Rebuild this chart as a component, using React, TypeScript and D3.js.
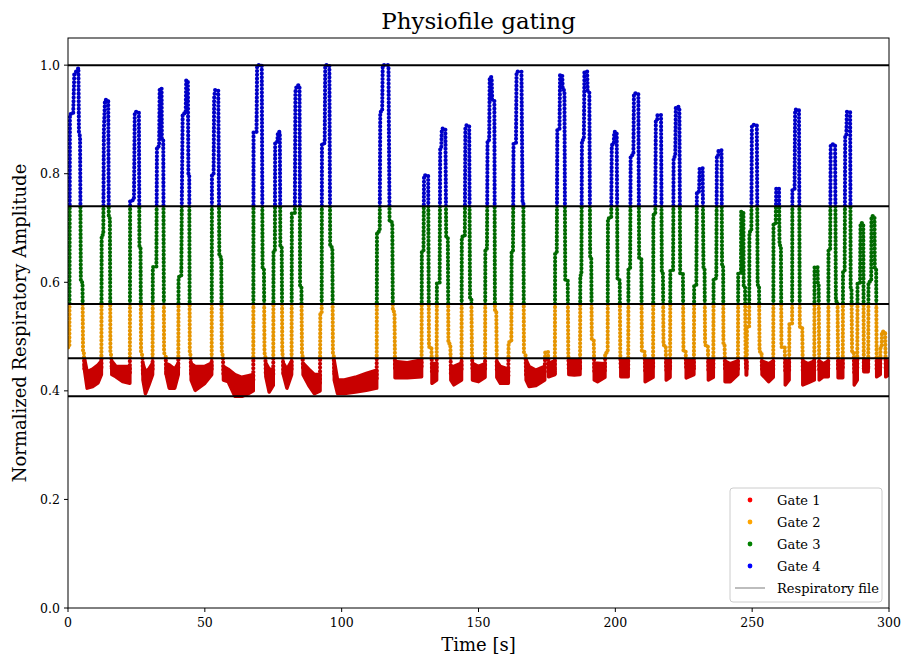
import React from "react";
import * as d3 from "d3";

// ---------- data ----------
const gateThresholds = [0.39, 0.46, 0.56, 0.74, 1.0];
const gateNames = ["Gate 1", "Gate 2", "Gate 3", "Gate 4"];
const gateLegendColors = ["#ff0000", "#ffa500", "#008000", "#0000ff"];
const gateTraceColors = ["#c80000", "#e69500", "#006a00", "#0000c8"];
const xTicks = [0, 50, 100, 150, 200, 250, 300];
const yTicks = [0.0, 0.2, 0.4, 0.6, 0.8, 1.0];

// breath excursions: [time (s), amplitude] key vertices
const breaths: [number, number][][] = [
  [[0, 0.48], [0.5, 0.48], [0.7, 0.91], [1.9, 0.91], [2.3, 0.985], [3.4, 0.99], [3.8, 0.995], [4.0, 0.877], [4.4, 0.868], [4.7, 0.6], [5.3, 0.6], [5.5, 0.47], [5.8, 0.47], [6.0, 0.44]],
  [[12.2, 0.44], [12.3, 0.687], [12.9, 0.687], [13.1, 0.877], [13.5, 0.936], [14.7, 0.936], [14.9, 0.718], [15.3, 0.718], [15.5, 0.47], [15.8, 0.465], [16.0, 0.44]],
  [[22.6, 0.44], [22.7, 0.751], [24.1, 0.751], [24.4, 0.914], [25.9, 0.914], [26.1, 0.665], [26.5, 0.665], [26.7, 0.47], [27.2, 0.465], [27.4, 0.43]],
  [[30.9, 0.44], [31.0, 0.628], [32.3, 0.628], [32.5, 0.85], [33.3, 0.85], [33.5, 0.957], [34.2, 0.957], [34.3, 0.862], [34.8, 0.862], [35.1, 0.47], [35.7, 0.465], [35.9, 0.43]],
  [[40.3, 0.44], [40.4, 0.61], [41.4, 0.61], [41.6, 0.751], [41.9, 0.911], [43.0, 0.911], [43.2, 0.972], [43.8, 0.972], [44.0, 0.8], [44.3, 0.8], [44.5, 0.47], [44.8, 0.465], [45.0, 0.43]],
  [[52.5, 0.44], [52.6, 0.797], [53.2, 0.797], [53.4, 0.939], [53.7, 0.954], [54.9, 0.954], [55.3, 0.647], [56.0, 0.647], [56.2, 0.47], [56.6, 0.465], [56.8, 0.43]],
  [[67.7, 0.43], [67.8, 0.877], [68.9, 0.877], [69.1, 1.0], [70.8, 1.0], [71.1, 0.626], [71.6, 0.626], [71.8, 0.47], [72.1, 0.465], [72.3, 0.43]],
  [[75.0, 0.43], [75.1, 0.659], [75.6, 0.659], [75.7, 0.859], [76.5, 0.859], [76.7, 0.877], [77.4, 0.877], [77.6, 0.665], [78.1, 0.665], [78.3, 0.47], [78.5, 0.465], [78.7, 0.43]],
  [[81.7, 0.44], [81.8, 0.727], [82.9, 0.727], [83.1, 0.951], [83.6, 0.963], [84.6, 0.963], [84.8, 0.592], [85.3, 0.592], [85.5, 0.47], [85.7, 0.465], [85.9, 0.44]],
  [[92.1, 0.44], [92.2, 0.543], [92.7, 0.543], [92.8, 0.856], [93.8, 0.856], [94.0, 1.0], [95.5, 1.0], [95.8, 0.665], [96.6, 0.665], [96.8, 0.47], [97.1, 0.465], [97.3, 0.43]],
  [[112.8, 0.44], [112.9, 0.693], [113.9, 0.693], [114.1, 0.914], [114.8, 0.914], [115.0, 1.0], [117.1, 1.0], [117.5, 0.711], [118.5, 0.711], [118.7, 0.546], [119.3, 0.546], [119.5, 0.44]],
  [[129.2, 0.45], [129.3, 0.656], [129.9, 0.656], [130.1, 0.797], [131.6, 0.797], [131.9, 0.481], [132.8, 0.481], [133.0, 0.44]],
  [[134.7, 0.44], [134.8, 0.598], [135.8, 0.598], [136.0, 0.847], [136.4, 0.847], [136.6, 0.883], [137.9, 0.883], [138.2, 0.681], [138.8, 0.681], [139.0, 0.487], [139.7, 0.487], [139.9, 0.44]],
  [[143.8, 0.44], [143.9, 0.684], [145.0, 0.684], [145.2, 0.883], [145.5, 0.889], [146.6, 0.889], [146.9, 0.57], [147.4, 0.57], [147.6, 0.47], [147.8, 0.44]],
  [[152.4, 0.44], [152.5, 0.662], [153.1, 0.662], [153.3, 0.862], [153.9, 0.862], [154.1, 0.978], [154.8, 0.978], [155.0, 0.936], [155.8, 0.936], [156.0, 0.549], [156.5, 0.549], [156.7, 0.44]],
  [[160.9, 0.44], [161.0, 0.49], [162.0, 0.49], [162.1, 0.656], [162.6, 0.656], [162.8, 0.856], [163.7, 0.856], [163.9, 0.988], [165.7, 0.988], [166.1, 0.745], [166.4, 0.745], [166.6, 0.47], [167.2, 0.465], [167.4, 0.43]],
  [[174.2, 0.44], [174.4, 0.472], [175.4, 0.472], [175.6, 0.44]],
  [[177.9, 0.43], [178.0, 0.653], [178.6, 0.653], [178.8, 0.883], [179.6, 0.883], [179.8, 0.982], [180.6, 0.982], [180.8, 0.954], [181.4, 0.954], [181.7, 0.604], [182.6, 0.604], [182.8, 0.47], [183.0, 0.44]],
  [[187.1, 0.44], [187.2, 0.613], [187.6, 0.613], [187.8, 0.862], [188.5, 0.862], [188.7, 0.988], [189.7, 0.988], [189.9, 0.951], [190.5, 0.951], [190.8, 0.644], [191.2, 0.644], [191.4, 0.494], [192.1, 0.494], [192.3, 0.44]],
  [[196.2, 0.44], [196.3, 0.47], [197.2, 0.47], [197.3, 0.718], [198.5, 0.718], [198.7, 0.853], [199.4, 0.853], [199.6, 0.877], [200.5, 0.877], [200.8, 0.604], [201.6, 0.604], [201.8, 0.47], [202.0, 0.44]],
  [[204.7, 0.44], [204.8, 0.626], [205.4, 0.626], [205.6, 0.834], [206.6, 0.834], [206.8, 0.948], [208.4, 0.948], [208.7, 0.644], [209.5, 0.644], [209.7, 0.472], [210.7, 0.472], [210.9, 0.44]],
  [[213.8, 0.44], [213.9, 0.724], [214.6, 0.724], [214.8, 0.899], [215.3, 0.899], [215.4, 0.908], [216.7, 0.908], [217.0, 0.616], [217.4, 0.616], [217.6, 0.484], [218.4, 0.484], [218.6, 0.44]],
  [[220.0, 0.44], [220.1, 0.622], [221.1, 0.622], [221.3, 0.831], [221.9, 0.831], [222.1, 0.923], [223.4, 0.923], [223.7, 0.616], [224.7, 0.616], [224.9, 0.472], [225.7, 0.472], [225.9, 0.44]],
  [[228.7, 0.44], [228.8, 0.595], [229.6, 0.595], [229.8, 0.767], [230.6, 0.767], [230.8, 0.81], [231.9, 0.81], [232.2, 0.628], [232.6, 0.628], [232.8, 0.484], [233.8, 0.484], [234.0, 0.44]],
  [[235.8, 0.44], [235.9, 0.607], [236.9, 0.607], [237.1, 0.834], [237.6, 0.834], [237.7, 0.843], [238.8, 0.843], [239.0, 0.628], [239.4, 0.628], [239.5, 0.487], [239.9, 0.487], [240.1, 0.44]],
  [[244.8, 0.44], [244.9, 0.616], [245.9, 0.616], [246.0, 0.73], [246.8, 0.73], [246.9, 0.592], [247.4, 0.592], [247.6, 0.465], [247.8, 0.44]],
  [[248.0, 0.44], [248.1, 0.518], [248.9, 0.518], [249.0, 0.693], [249.7, 0.693], [249.9, 0.89], [251.7, 0.89], [252.0, 0.595], [252.5, 0.595], [252.7, 0.472], [253.4, 0.472], [253.6, 0.44]],
  [[257.7, 0.44], [257.8, 0.709], [258.6, 0.709], [258.8, 0.773], [259.8, 0.773], [260.0, 0.668], [260.5, 0.668], [260.7, 0.481], [261.9, 0.481], [262.1, 0.44]],
  [[263.5, 0.44], [263.6, 0.524], [264.6, 0.524], [264.7, 0.77], [265.5, 0.77], [265.7, 0.918], [267.1, 0.918], [267.4, 0.518], [268.3, 0.518], [268.5, 0.44]],
  [[272.7, 0.44], [272.8, 0.628], [273.9, 0.628], [274.0, 0.598], [274.3, 0.598], [274.5, 0.44]],
  [[277.8, 0.44], [277.9, 0.662], [278.5, 0.662], [278.7, 0.854], [280.3, 0.854], [280.6, 0.565], [281.2, 0.565], [281.4, 0.44]],
  [[283.1, 0.44], [283.2, 0.619], [283.8, 0.619], [284.0, 0.868], [284.4, 0.868], [284.6, 0.914], [285.8, 0.914], [286.0, 0.589], [286.3, 0.589], [286.5, 0.47], [287.1, 0.47], [287.3, 0.44]],
  [[288.4, 0.44], [288.5, 0.598], [289.4, 0.598], [289.6, 0.709], [290.6, 0.709], [290.8, 0.44]],
  [[292.4, 0.44], [292.5, 0.601], [293.5, 0.601], [293.6, 0.722], [294.7, 0.722], [294.8, 0.626], [295.3, 0.626], [295.5, 0.44]],
  [[296.8, 0.44], [296.9, 0.48], [297.3, 0.48], [297.4, 0.509], [298.6, 0.509], [298.8, 0.44]],
];

// baseline (Gate 1) stretches after each breath: [time (s), low, high]
const baselineGaps: [number, number, number][][] = [
  [[6.0, 0.44, 0.46], [7, 0.405, 0.435], [9, 0.408, 0.44], [11, 0.415, 0.448], [12.2, 0.43, 0.455]],
  [[16.0, 0.43, 0.455], [17.5, 0.426, 0.445], [20, 0.417, 0.445], [22.6, 0.414, 0.445]],
  [[27.4, 0.42, 0.45], [28.3, 0.395, 0.435], [29.5, 0.41, 0.44], [30.9, 0.43, 0.451]],
  [[35.9, 0.43, 0.45], [37, 0.405, 0.448], [39, 0.405, 0.44], [40.3, 0.43, 0.451]],
  [[45.0, 0.42, 0.45], [46.5, 0.401, 0.445], [50, 0.414, 0.445], [52.5, 0.43, 0.451]],
  [[56.8, 0.42, 0.445], [58.5, 0.417, 0.44], [61, 0.39, 0.43], [63.5, 0.39, 0.425], [66, 0.395, 0.428], [67.7, 0.4, 0.43]],
  [[72.3, 0.426, 0.451], [73.5, 0.398, 0.44], [75.0, 0.41, 0.44]],
  [[78.7, 0.43, 0.451], [80, 0.405, 0.44], [81.7, 0.43, 0.455]],
  [[85.9, 0.43, 0.451], [88, 0.41, 0.44], [90, 0.395, 0.43], [92.1, 0.4, 0.43]],
  [[97.3, 0.42, 0.455], [98.5, 0.395, 0.42], [101, 0.395, 0.42], [105, 0.398, 0.425], [109, 0.401, 0.432], [112.8, 0.405, 0.438]],
  [[119.5, 0.424, 0.454], [124, 0.424, 0.452], [129.2, 0.426, 0.457]],
  [[133.0, 0.414, 0.451], [134.7, 0.42, 0.45]],
  [[139.9, 0.42, 0.445], [141, 0.411, 0.445], [143.8, 0.42, 0.451]],
  [[147.8, 0.42, 0.451], [150, 0.417, 0.445], [152.4, 0.425, 0.45]],
  [[156.7, 0.425, 0.454], [158, 0.414, 0.445], [160.9, 0.414, 0.44]],
  [[167.4, 0.42, 0.457], [168.5, 0.408, 0.445], [171, 0.41, 0.438], [174.2, 0.42, 0.445]],
  [[175.6, 0.426, 0.451], [177.9, 0.43, 0.455]],
  [[183.0, 0.43, 0.457], [185, 0.429, 0.457], [187.1, 0.43, 0.457]],
  [[192.3, 0.42, 0.451], [193.5, 0.417, 0.451], [196.2, 0.425, 0.45]],
  [[202.0, 0.426, 0.457], [204.7, 0.426, 0.457]],
  [[210.9, 0.417, 0.457], [213.8, 0.425, 0.457]],
  [[218.6, 0.42, 0.457], [220.0, 0.425, 0.457]],
  [[225.9, 0.424, 0.457], [228.7, 0.43, 0.457]],
  [[234.0, 0.42, 0.457], [235.8, 0.425, 0.457]],
  [[240.1, 0.417, 0.455], [242, 0.417, 0.45], [244.8, 0.43, 0.455]],
  [[247.8, 0.429, 0.455], [248.0, 0.429, 0.455]],
  [[253.6, 0.43, 0.455], [256, 0.417, 0.45], [257.7, 0.425, 0.455]],
  [[262.1, 0.411, 0.455], [263.5, 0.42, 0.455]],
  [[268.5, 0.411, 0.455], [270.5, 0.415, 0.45], [272.7, 0.42, 0.455]],
  [[274.5, 0.42, 0.455], [276, 0.426, 0.45], [277.8, 0.426, 0.455]],
  [[281.4, 0.424, 0.455], [283.1, 0.424, 0.455]],
  [[287.3, 0.411, 0.455], [288.4, 0.42, 0.455]],
  [[290.8, 0.435, 0.457], [292.4, 0.435, 0.457]],
  [[295.5, 0.426, 0.455], [296.8, 0.43, 0.455]],
  [[298.8, 0.426, 0.455], [300, 0.43, 0.455]],
];

// ---------- layout ----------
const W = 902;
const H = 659;
const left = 68;
const right = 889;
const top = 38;
const bottom = 608;
const FONT = "'DejaVu Serif', 'Liberation Serif', serif";

export default function App() {
  const x = d3.scaleLinear().domain([0, 300]).range([left, right]);
  const y = d3.scaleLinear().domain([0, 1.05]).range([bottom, top]);

  const trace: [number, number][] = [];
  breaths.forEach((b, i) => {
    b.forEach((p) => trace.push(p));
    (baselineGaps[i] || []).forEach(([t, lo, hi]) => trace.push([t, (lo + hi) / 2]));
  });

  const line = d3
    .line<[number, number]>()
    .x((d) => x(d[0]))
    .y((d) => y(d[1]));
  const tracePath = line(trace) || "";

  const area = d3
    .area<[number, number, number]>()
    .x((d) => x(d[0]))
    .y0((d) => y(d[1]))
    .y1((d) => y(d[2]));

  // gate bands in pixel space
  const bands = [
    [y(0.46), bottom + 10],
    [y(0.56), y(0.46)],
    [y(0.74), y(0.56)],
    [top - 10, y(0.74)],
  ];

  const legendX = 730;
  const legendY = 488;

  return (
    <svg
      width={W}
      height={H}
      style={{ position: "absolute", left: 0, top: 0, background: "#fff" }}
      fontFamily={FONT}
    >
      <defs>
        {bands.map((b, i) => (
          <clipPath id={`gate${i}`} key={i}>
            <rect x={left} y={b[0]} width={right - left} height={b[1] - b[0]} />
          </clipPath>
        ))}
        <clipPath id="plotArea">
          <rect x={left} y={top} width={right - left} height={bottom - top} />
        </clipPath>
      </defs>

      <rect x={0} y={0} width={W} height={H} fill="#fff" />

      {/* respiratory file line */}
      <g clipPath="url(#plotArea)">
        <path d={tracePath} fill="none" stroke="#bdbdbd" strokeWidth={1.6} />
      </g>

      {/* gate-coloured samples */}
      {gateTraceColors.map((c, i) => (
        <g key={i} clipPath={`url(#gate${i})`}>
          {i === 0 &&
            baselineGaps.map((g, j) => (
              <path
                key={j}
                d={area(g) || ""}
                fill={c}
                stroke={c}
                strokeWidth={3.5}
                strokeLinejoin="round"
              />
            ))}
          <path
            d={tracePath}
            fill="none"
            stroke={c}
            strokeWidth={4.2}
            strokeLinecap="round"
            strokeDasharray="0 3.8"
          />
        </g>
      ))}

      {/* gate thresholds */}
      {gateThresholds.map((v, i) => (
        <line key={i} x1={left} x2={right} y1={y(v)} y2={y(v)} stroke="#000" strokeWidth={2} />
      ))}

      {/* frame */}
      <rect x={left} y={top} width={right - left} height={bottom - top} fill="none" stroke="#000" strokeWidth={1} />

      {/* x axis */}
      {xTicks.map((t) => (
        <g key={t}>
          <line x1={x(t)} x2={x(t)} y1={bottom} y2={bottom + 4} stroke="#000" strokeWidth={1} />
          <text x={x(t)} y={bottom + 19} textAnchor="middle" fontSize={12.5} fill="#000">
            {t}
          </text>
        </g>
      ))}
      {/* y axis */}
      {yTicks.map((t) => (
        <g key={t}>
          <line x1={left - 4} x2={left} y1={y(t)} y2={y(t)} stroke="#000" strokeWidth={1} />
          <text x={left - 8} y={y(t) + 4.5} textAnchor="end" fontSize={12.5} fill="#000">
            {t.toFixed(1)}
          </text>
        </g>
      ))}

      <text x={(left + right) / 2} y={651} textAnchor="middle" fontSize={18} fill="#000">
        Time [s]
      </text>
      <text
        transform={`translate(26, ${(top + bottom) / 2}) rotate(-90)`}
        textAnchor="middle"
        fontSize={18}
        fill="#000"
      >
        Normalized Respiratory Amplitude
      </text>
      <text x={(left + right) / 2} y={29} textAnchor="middle" fontSize={23} fill="#000">
        Physiofile gating
      </text>

      {/* legend */}
      <g>
        <rect
          x={legendX}
          y={legendY}
          width={152}
          height={114}
          rx={3}
          fill="#fff"
          fillOpacity={0.85}
          stroke="#cccccc"
          strokeWidth={1}
        />
        {gateNames.map((n, i) => (
          <g key={n}>
            <circle cx={legendX + 20} cy={legendY + 12 + i * 22} r={2.4} fill={gateLegendColors[i]} />
            <text x={legendX + 47} y={legendY + 17 + i * 22} fontSize={13} fill="#000">
              {n}
            </text>
          </g>
        ))}
        <line
          x1={legendX + 5}
          x2={legendX + 35}
          y1={legendY + 100}
          y2={legendY + 100}
          stroke="#bdbdbd"
          strokeWidth={2}
        />
        <text x={legendX + 47} y={legendY + 105} fontSize={13} fill="#000">
          Respiratory file
        </text>
      </g>
    </svg>
  );
}
